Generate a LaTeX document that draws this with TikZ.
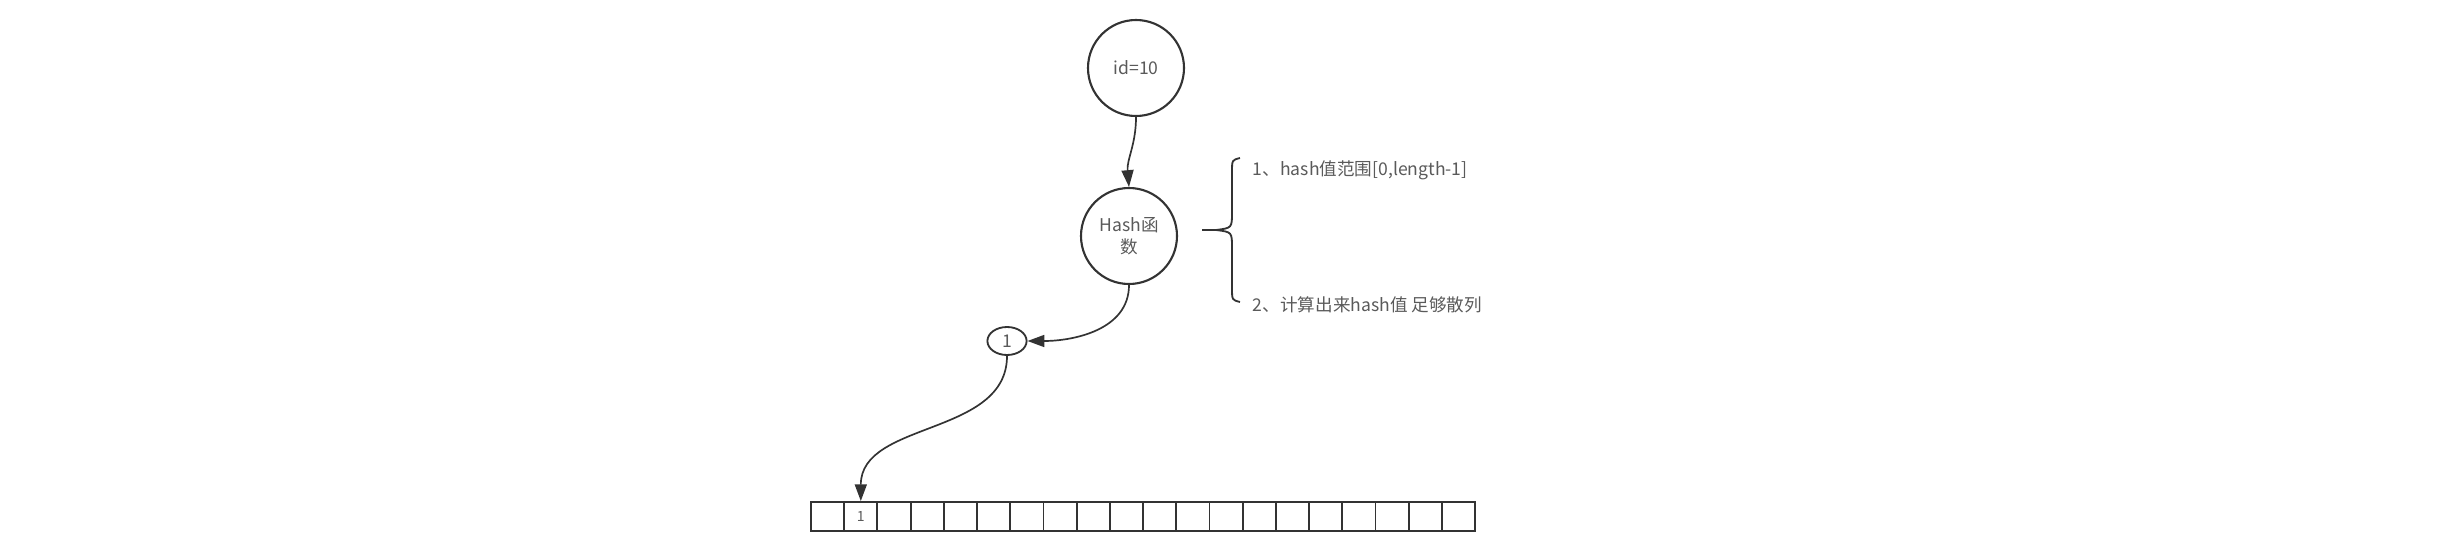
\documentclass[tikz,border=0pt]{standalone}
\usepackage{fontspec}
\setmainfont{Noto Sans CJK SC}
\usetikzlibrary{arrows.meta,shapes.geometric}

\definecolor{linegray}{HTML}{333333}
\definecolor{txtgray}{HTML}{5A5A5A}

\begin{document}
\begin{tikzpicture}[
    every node/.style={font=\fontsize{12.5}{15.5}\selectfont, text=txtgray},
    ball/.style={circle, draw=linegray, line width=1.5pt, minimum size=2.4cm, inner sep=0pt, align=center},
    slot/.style={rectangle, draw=linegray, line width=1.3pt, minimum width=0.83cm, minimum height=0.725cm, inner sep=0pt},
    link/.style={draw=linegray, line width=1.2pt, -{Triangle[length=0.42cm,width=0.3cm]}}
  ]
            \useasboundingbox (0,0) rectangle (61.6,13.9);

            % key and hash function
            \node[ball] (id) at (28.4,12.2) {id=10};
            \node[ball] (hash) at (28.225,8.0) {Hash函\\数};
            \node[ellipse, draw=linegray, line width=1.3pt, minimum width=0.98cm, minimum height=0.7cm, inner sep=0pt] (idx) at (25.175,5.375) {1};

            % the array
            \foreach \i in {1,...,20}
                \node[slot] (c\i) at ({20.275+0.83*(\i-0.5)},0.9875) {};
            \node[font=\fontsize{10}{12}\selectfont] (val) at (c2) {1};

            % notes
            \node[anchor=west] (note1) at (31.2,9.65) {1、hash值范围[0,length-1]};
            \node[anchor=west] (note2) at (31.2,6.275) {2、计算出来hash值 足够散列};
            \draw[linegray, line width=1.3pt]
                (31.0,9.95) .. controls (30.8,9.9) .. (30.8,9.6) -- (30.8,8.6)
                .. controls (30.8,8.2) .. (30.4,8.15) -- (30.05,8.15)
                (30.4,8.15) .. controls (30.8,8.1) .. (30.8,7.7) -- (30.8,6.7)
                .. controls (30.8,6.4) .. (31.0,6.35);

            \draw[link] (id.south) to[out=-90,in=95] (hash.north);
            \draw[link] (hash.south) to[out=-90,in=0] (idx.east);
            \draw[link] (idx.south) to[out=-90,in=90] (c2.north);
        \end{tikzpicture}
\end{document}
